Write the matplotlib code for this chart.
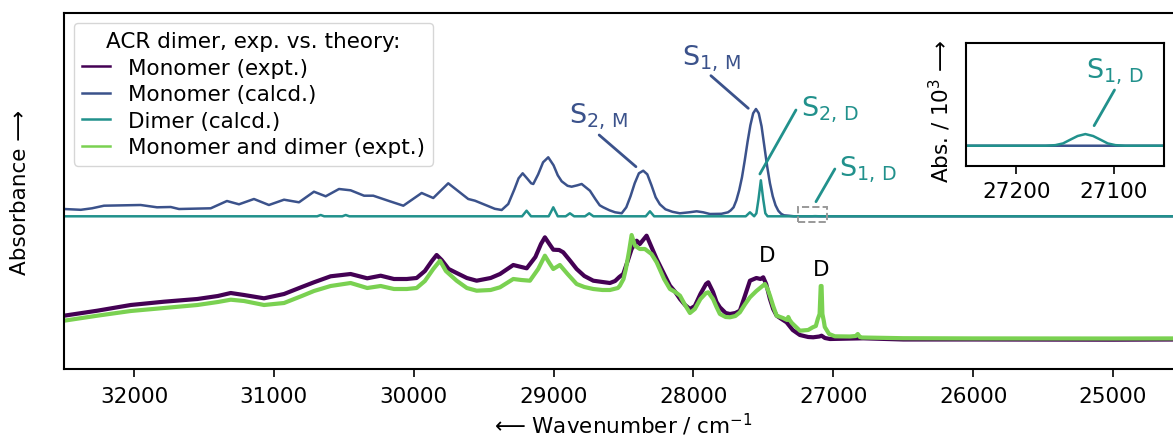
import matplotlib
matplotlib.use("Agg")
import matplotlib.pyplot as plt
from matplotlib.patches import Rectangle

plt.rcParams['font.family'] = ['DejaVu Sans']
plt.rcParams['mathtext.default'] = 'regular'
FS = 15.5

# ---------------- data ----------------
# calculated monomer spectrum (relative to its own baseline)
wn_calc_M = [32500, 32380, 32300, 32214, 31952, 31835, 31737, 31678, 31451, 31335, 31249, 31142,
             31035, 30927, 30820, 30713, 30629, 30534, 30451, 30355, 30289, 30170, 30074, 29943,
             29860, 29753, 29610, 29562, 29420, 29371, 29324, 29280, 29250, 29221, 29190, 29160,
             29145, 29110, 29075, 29038, 29000, 28970, 28942, 28900, 28871, 28830, 28799, 28770,
             28740, 28700, 28670, 28645, 28600, 28560, 28513, 28480, 28450, 28420, 28390, 28359,
             28330, 28300, 28270, 28240, 28200, 28150, 28097, 28030, 27977, 27930, 27882, 27800,
             27753, 27733, 27713, 27693, 27673, 27653, 27633, 27613, 27593, 27573, 27553, 27533,
             27513, 27493, 27473, 27453, 27433, 27413, 27393, 27373, 27353, 27320, 27280, 24500]
abs_calc_M = [0.073, 0.065, 0.080, 0.106, 0.113, 0.090, 0.093, 0.073, 0.080, 0.153, 0.120, 0.173,
              0.113, 0.166, 0.140, 0.246, 0.200, 0.273, 0.260, 0.206, 0.206, 0.150, 0.106, 0.233,
              0.183, 0.330, 0.173, 0.156, 0.075, 0.063, 0.123, 0.270, 0.380, 0.430, 0.380, 0.330,
              0.323, 0.420, 0.540, 0.590, 0.510, 0.410, 0.350, 0.305, 0.296, 0.310, 0.323, 0.290,
              0.256, 0.170, 0.110, 0.090, 0.060, 0.040, 0.030, 0.090, 0.200, 0.330, 0.430, 0.456,
              0.420, 0.310, 0.190, 0.120, 0.070, 0.045, 0.030, 0.040, 0.050, 0.040, 0.023, 0.025,
              0.040, 0.060, 0.090, 0.160, 0.260, 0.390, 0.560, 0.745, 0.910, 1.030, 1.073, 1.030,
              0.900, 0.700, 0.500, 0.330, 0.200, 0.110, 0.055, 0.025, 0.010, 0.006, 0.000, 0.000]

# calculated dimer spectrum (relative to its own baseline)
wn_calc_D = [32500, 30690, 30665, 30640, 30510, 30486, 30460, 29225, 29209, 29193, 29177, 29161,
             29035, 29018, 29002, 28986, 28970, 28913, 28898, 28883, 28868, 28853, 28775, 28760,
             28745, 28730, 28715, 28341, 28326, 28311, 28296, 28281, 27626, 27611, 27596, 27581,
             27566, 27550, 27535, 27518, 27501, 27486, 27470, 27170, 27160, 27152, 27145, 27137,
             27129, 27121, 27113, 27106, 27098, 27088, 24500]
abs_calc_D = [0.0, 0.0, 0.013, 0.0, 0.0, 0.013, 0.0, 0.0, 0.028, 0.056, 0.028, 0.0,
              0.0, 0.045, 0.090, 0.045, 0.0, 0.0, 0.015, 0.030, 0.015, 0.0, 0.0, 0.015,
              0.030, 0.015, 0.0, 0.0, 0.025, 0.050, 0.025, 0.0, 0.0, 0.020, 0.040, 0.020,
              0.0, 0.030, 0.170, 0.360, 0.170, 0.030, 0.0, 0.0, 0.000075, 0.0003, 0.00075, 0.00125,
              0.0015, 0.00125, 0.00075, 0.0003, 0.000075, 0.0, 0.0]

# experimental monomer spectrum
wn_exp_M = [32500, 32262, 32023, 31785, 31547, 31400, 31308, 31213, 31070, 30927, 30800, 30713,
            30594, 30451, 30332, 30236, 30141, 30050, 29979, 29920, 29870, 29836, 29800, 29750,
            29693, 29620, 29550, 29450, 29383, 29288, 29230, 29192, 29130, 29090, 29062, 29030,
            29002, 28960, 28931, 28880, 28835, 28780, 28716, 28650, 28597, 28560, 28530, 28502,
            28470, 28442, 28406, 28383, 28335, 28300, 28263, 28210, 28168, 28130, 28096, 28060,
            28025, 27990, 27950, 27910, 27894, 27860, 27835, 27811, 27770, 27739, 27700, 27668,
            27630, 27596, 27550, 27520, 27501, 27480, 27453, 27430, 27405, 27370, 27334, 27290,
            27239, 27180, 27144, 27100, 27084, 27060, 27024, 26786, 26500, 26000, 25000, 24500]
abs_exp_M = [0.233, 0.283, 0.340, 0.373, 0.400, 0.430, 0.460, 0.440, 0.407, 0.450, 0.520, 0.567,
             0.627, 0.650, 0.607, 0.633, 0.600, 0.600, 0.610, 0.680, 0.780, 0.840, 0.790, 0.700,
             0.660, 0.610, 0.583, 0.610, 0.650, 0.740, 0.720, 0.707, 0.820, 0.950, 1.017, 0.950,
             0.893, 0.890, 0.867, 0.780, 0.700, 0.630, 0.583, 0.570, 0.560, 0.580, 0.620, 0.650,
             0.780, 0.900, 0.983, 0.950, 1.033, 0.920, 0.800, 0.650, 0.533, 0.470, 0.400, 0.340,
             0.300, 0.330, 0.450, 0.550, 0.567, 0.470, 0.370, 0.317, 0.260, 0.250, 0.260, 0.283,
             0.440, 0.583, 0.610, 0.600, 0.617, 0.550, 0.400, 0.300, 0.233, 0.200, 0.167, 0.090,
             0.040, 0.020, 0.017, 0.025, 0.033, 0.010, 0.000, 0.007, -0.005, -0.005, -0.007, -0.005]

# experimental monomer + dimer spectrum
wn_exp_MD = [32500, 32262, 32023, 31785, 31547, 31400, 31308, 31213, 31070, 30927, 30800, 30713,
             30594, 30451, 30332, 30236, 30141, 30050, 29979, 29920, 29860, 29812, 29770, 29693,
             29620, 29550, 29450, 29383, 29288, 29230, 29169, 29110, 29062, 29030, 29002, 28955,
             28900, 28835, 28780, 28716, 28650, 28597, 28540, 28526, 28500, 28483, 28460, 28442,
             28418, 28383, 28347, 28300, 28263, 28210, 28168, 28130, 28096, 28060, 28025, 27990,
             27950, 27910, 27894, 27860, 27835, 27811, 27770, 27739, 27700, 27668, 27630, 27596,
             27550, 27489, 27470, 27453, 27430, 27405, 27360, 27330, 27322, 27312, 27296, 27239,
             27180, 27147, 27125, 27111, 27098, 27090, 27084, 27078, 27068, 27061, 27030, 26989,
             26882, 26840, 26825, 26810, 26796, 26500, 26000, 25000, 24500]
abs_exp_MD = [0.183, 0.233, 0.280, 0.310, 0.340, 0.370, 0.393, 0.380, 0.340, 0.360, 0.430, 0.480,
              0.530, 0.560, 0.510, 0.530, 0.500, 0.500, 0.510, 0.580, 0.700, 0.783, 0.680, 0.583,
              0.510, 0.483, 0.490, 0.517, 0.600, 0.590, 0.583, 0.700, 0.833, 0.760, 0.700, 0.740,
              0.650, 0.550, 0.520, 0.500, 0.490, 0.490, 0.510, 0.533, 0.600, 0.700, 0.880, 1.040,
              0.933, 0.900, 0.900, 0.850, 0.767, 0.600, 0.500, 0.470, 0.433, 0.340, 0.260, 0.300,
              0.400, 0.460, 0.467, 0.400, 0.320, 0.250, 0.220, 0.217, 0.230, 0.267, 0.350, 0.417,
              0.480, 0.550, 0.500, 0.433, 0.330, 0.233, 0.210, 0.190, 0.220, 0.190, 0.160, 0.083,
              0.090, 0.117, 0.130, 0.200, 0.250, 0.530, 0.530, 0.250, 0.180, 0.120, 0.050, 0.027,
              0.025, 0.030, 0.050, 0.020, 0.015, 0.008, 0.006, 0.005, 0.006]

labels = ["Monomer (expt.)", "Monomer (calcd.)", "Dimer (calcd.)", "Monomer and dimer (expt.)"]
legend_title = "ACR dimer, exp. vs. theory:"
x_ticks = [32000, 31000, 30000, 29000, 28000, 27000, 26000, 25000]
inset_ticks = [27200, 27100]

# ---------------- style ----------------
c_expM = "#440154"
c_calcM = "#3b528b"
c_calcD = "#21918c"
c_expMD = "#7ad151"
CALC_OFFSET = 1.227

W, H = 1173, 439
fig = plt.figure(figsize=(W / 100, H / 100), dpi=100)
ax = fig.add_axes([64 / W, 69 / H, (1183 - 64) / W, 356 / H])

ax.plot(wn_exp_M, abs_exp_M, color=c_expM, lw=3.0, label=labels[0], solid_joinstyle='round')
calcM_off = [v + CALC_OFFSET for v in abs_calc_M]
calcD_off = [v + CALC_OFFSET for v in abs_calc_D]
ax.plot(wn_calc_M, calcM_off, color=c_calcM, lw=1.8, label=labels[1])
ax.plot(wn_calc_D, calcD_off, color=c_calcD, lw=1.8, label=labels[2])
ax.plot(wn_exp_MD, abs_exp_MD, color=c_expMD, lw=3.0, label=labels[3], solid_joinstyle='round')

ax.set_xlim(32500, 24500)
ax.set_ylim(-0.30, 3.26)
ax.set_yticks([])
ax.set_xticks(x_ticks)
ax.tick_params(axis='x', labelsize=FS, length=6, width=1.2, pad=6)
for s in ax.spines.values():
    s.set_linewidth(1.5)
ax.set_xlabel("\u27f5 Wavenumber / cm$^{-1}$", fontsize=FS, labelpad=4)
ax.set_ylabel("Absorbance \u27f6", fontsize=FS)
ax.yaxis.set_label_coords((30 - 64) / 1119, 0.5)

leg = ax.legend(loc='upper left', fontsize=FS, title=legend_title, title_fontsize=FS,
                handlelength=1.3, labelspacing=0.3, borderaxespad=0.45)
for line in leg.get_lines():
    line.set_linewidth(1.8)

# annotations
lk = dict(arrowstyle='-', lw=2.0, shrinkA=0, shrinkB=0)
ax.annotate("", xy=(27608, 2.307), xytext=(27875, 2.633), arrowprops=dict(color=c_calcM, **lk))
ax.text(27871, 2.75, r"S$_{1,\,M}$", color=c_calcM, fontsize=19.5, ha='center', va='baseline')
ax.annotate("", xy=(28411, 1.723), xytext=(28674, 2.04), arrowprops=dict(color=c_calcM, **lk))
ax.text(28676, 2.16, r"S$_{2,\,M}$", color=c_calcM, fontsize=19.5, ha='center', va='baseline')
ax.annotate("", xy=(27525, 1.65), xytext=(27267, 2.29), arrowprops=dict(color=c_calcD, **lk))
ax.text(27232, 2.233, r"S$_{2,\,D}$", color=c_calcD, fontsize=19.5, ha='left', va='baseline')
ax.annotate("", xy=(27124, 1.373), xytext=(26989, 1.70), arrowprops=dict(color=c_calcD, **lk))
ax.text(26958, 1.633, r"S$_{1,\,D}$", color=c_calcD, fontsize=19.5, ha='left', va='baseline')
ax.text(27471, 0.84, "D", fontsize=FS, ha='center', va='center')
ax.text(27087, 0.70, "D", fontsize=FS, ha='center', va='center')

inset_xlim = (27252, 27048)
ax.add_patch(Rectangle((inset_xlim[0], CALC_OFFSET - 0.06), inset_xlim[1] - inset_xlim[0], 0.15,
                       fill=False, ls='--', lw=1.4, ec='#999999', zorder=5))

# inset
axi = fig.add_axes([966 / W, (H - 166.7) / H, 198 / W, 122.7 / H])
axi.plot(wn_calc_M, abs_calc_M, color=c_calcM, lw=1.8)
axi.plot(wn_calc_D, abs_calc_D, color=c_calcD, lw=1.8)
axi.set_xlim(*inset_xlim)
axi.set_ylim(-0.00257, 0.01322)
axi.set_yticks([])
axi.set_xticks(inset_ticks)
axi.tick_params(axis='x', labelsize=FS, length=6, width=1.2, pad=5)
for s in axi.spines.values():
    s.set_linewidth(1.5)
axi.set_ylabel("Abs. / 10$^3$ \u27f6", fontsize=FS)
axi.yaxis.set_label_coords((953 - 966) / 198, 0.45)
axi.annotate("", xy=(27120, 0.00258), xytext=(27099, 0.00717), arrowprops=dict(color=c_calcD, **lk))
axi.text(27128, 0.00881, r"S$_{1,\,D}$", color=c_calcD, fontsize=19.5, ha='left', va='baseline')

fig.savefig("out.png", dpi=100)
